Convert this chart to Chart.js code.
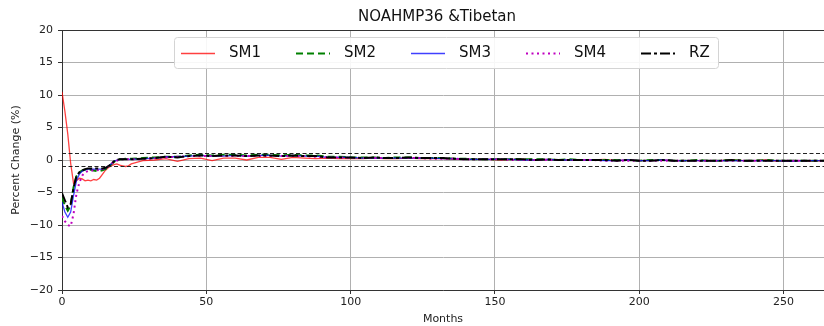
<!DOCTYPE html>
<html lang="en">
<head>
    <meta charset="UTF-8">
    <title>NOAHMP36 &amp;Tibetan</title>
    <script src="https://cdn.jsdelivr.net/npm/chart.js"></script>
    <style>
        body {
            margin: 0;
            padding: 0;
            background-color: #fff;
        }
        .chart-container {
            width: 824px;
            height: 326px;
        }
    </style>
</head>
<body>
    <div class="chart-container">
        <canvas id="changeChart" width="824" height="326"></canvas>
    </div>

    <script>
        // months since start
        const months = [0, 1, 2, 3, 4, 5, 6, 7, 8, 9, 10, 11, 12, 13, 14, 15, 16, 17, 18, 19, 20, 21, 22, 23, 24,
            28, 32, 36, 40, 44, 48, 52, 56, 60, 64, 68, 72, 76, 80, 84, 88, 92, 96, 100,
            104, 108, 112, 116, 120, 124, 128, 132, 136, 140, 144, 148, 152, 156, 160, 164, 168, 172, 176, 180,
            184, 188, 192, 196, 200, 204, 208, 212, 216, 220, 224, 228, 232, 236, 240, 244, 248, 252, 256, 260, 264];

        const sm1 = [10.5, 7.5, 4.0, -0.5, -3.6, -3.2, -2.8, -2.9, -3.2, -3.1, -3.2, -3.0, -3.1, -2.8, -2.2, -1.6, -1.2, -0.9, -0.7, -0.6, -0.8, -0.9, -1.0, -0.9,
            -0.6, -0.1, 0.0, 0.2, -0.2, 0.2, 0.3, -0.1, 0.3, 0.3,
            0.0, 0.4, 0.4, 0.1, 0.4, 0.3, 0.2, 0.3, 0.2, 0.2,
            0.2, 0.3, 0.2, 0.2, 0.3, 0.2, 0.2, 0.2, 0.1, 0.1,
            0.1, 0.1, 0.0, 0.1, 0.1, 0.0, 0.1, 0.0, 0.0, 0.0,
            0.0, 0.1, -0.1, 0.0, -0.1, -0.1, 0.0, -0.1, -0.1, -0.1,
            -0.1, -0.1, 0.0, -0.1, -0.1, 0.0, -0.2, -0.1, -0.1, -0.2, -0.1];

        const sm2 = [-5.8, -7.0, -7.8, -7.0, -4.2, -2.5, -1.9, -1.6, -1.5, -1.5, -1.5, -1.6, -1.7, -1.7, -1.6, -1.4, -1.1, -0.7, -0.3, 0.0, 0.1, 0.1, 0.2, 0.2,
            0.2, 0.3, 0.4, 0.5, 0.5, 0.7, 0.8, 0.7, 0.8, 0.8,
            0.7, 0.8, 0.8, 0.7, 0.8, 0.7, 0.7, 0.5, 0.5, 0.4,
            0.4, 0.4, 0.3, 0.4, 0.4, 0.3, 0.3, 0.3, 0.2, 0.2,
            0.1, 0.1, 0.1, 0.1, 0.1, 0.1, 0.1, 0.0, 0.1, 0.0,
            0.0, 0.0, 0.0, 0.0, -0.1, 0.0, 0.0, -0.1, -0.1, 0.0,
            -0.1, -0.1, 0.0, -0.1, -0.1, 0.0, -0.1, -0.1, -0.1, -0.1, -0.1];

        const sm3 = [-6.5, -8.0, -8.8, -8.0, -5.5, -3.2, -2.2, -1.7, -1.5, -1.4, -1.4, -1.4, -1.4, -1.4, -1.4, -1.3, -1.0, -0.6, -0.2, 0.0, 0.1, 0.1, 0.1, 0.1,
            0.1, 0.2, 0.3, 0.5, 0.5, 0.6, 0.7, 0.6, 0.6, 0.7,
            0.6, 0.7, 0.7, 0.6, 0.7, 0.6, 0.6, 0.4, 0.4, 0.4,
            0.3, 0.3, 0.3, 0.3, 0.3, 0.3, 0.3, 0.2, 0.2, 0.1,
            0.1, 0.1, 0.1, 0.1, 0.0, 0.0, 0.1, 0.0, 0.0, 0.0,
            0.0, -0.1, -0.1, 0.0, -0.1, -0.1, 0.0, -0.1, -0.1, -0.1,
            -0.1, -0.1, -0.1, -0.1, -0.1, -0.1, -0.1, -0.2, -0.1, -0.1, -0.1];

        const sm4 = [-8.6, -9.4, -10.0, -10.2, -8.3, -5.2, -3.5, -2.4, -1.9, -1.7, -1.6, -1.6, -1.6, -1.5, -1.4, -1.2, -1.0, -0.6, -0.3, -0.1, 0.0, 0.1, 0.1, 0.1,
            0.1, 0.1, 0.3, 0.4, 0.5, 0.6, 0.6, 0.6, 0.6, 0.6,
            0.6, 0.6, 0.6, 0.6, 0.6, 0.6, 0.5, 0.4, 0.4, 0.3,
            0.3, 0.3, 0.3, 0.3, 0.3, 0.3, 0.2, 0.2, 0.2, 0.1,
            0.1, 0.1, 0.1, 0.0, 0.0, 0.0, 0.0, 0.0, 0.0, 0.0,
            0.0, -0.1, -0.1, -0.1, -0.1, -0.1, -0.1, -0.1, -0.1, -0.1,
            -0.1, -0.1, -0.1, -0.1, -0.1, -0.1, -0.1, -0.1, -0.1, -0.1, -0.1];

        const rz = [-5.1, -6.2, -7.3, -6.8, -4.3, -2.5, -1.9, -1.6, -1.4, -1.3, -1.3, -1.3, -1.3, -1.3, -1.3, -1.2, -1.0, -0.6, -0.2, 0.0, 0.1, 0.1, 0.1, 0.1,
            0.1, 0.2, 0.3, 0.5, 0.4, 0.6, 0.7, 0.6, 0.7, 0.7,
            0.6, 0.7, 0.7, 0.6, 0.7, 0.6, 0.6, 0.4, 0.4, 0.4,
            0.3, 0.4, 0.3, 0.3, 0.4, 0.3, 0.3, 0.3, 0.2, 0.1,
            0.1, 0.1, 0.1, 0.1, 0.1, 0.0, 0.1, 0.0, 0.0, 0.0,
            0.0, 0.0, -0.1, 0.0, -0.1, -0.1, 0.0, -0.1, -0.1, -0.1,
            -0.1, -0.1, 0.0, -0.1, -0.1, -0.1, -0.1, -0.1, -0.1, -0.1, -0.1];

        const seriesNames = ['SM1', 'SM2', 'SM3', 'SM4', 'RZ'];
        const refLevels = [1, -1];
        const yTicks = [-20, -15, -10, -5, 0, 5, 10, 15, 20];
        const xTicks = [0, 50, 100, 150, 200, 250];

        const FONT = "'DejaVu Sans', sans-serif";

        function toPoints(values) {
            return months.map((m, i) => ({ x: m, y: values[i] }));
        }

        const seriesStyles = [
            { color: 'rgba(255, 0, 0, 0.75)', width: 1.3, dash: [] },
            { color: '#008000', width: 2, dash: [7, 4] },
            { color: 'rgba(0, 0, 255, 0.75)', width: 1.3, dash: [] },
            { color: '#bf00bf', width: 2, dash: [2, 3.5] },
            { color: '#000000', width: 2, dash: [10, 3, 3, 3] }
        ];

        const lineSets = [sm1, sm2, sm3, sm4, rz].map((values, i) => ({
            label: seriesNames[i],
            data: toPoints(values),
            borderColor: seriesStyles[i].color,
            borderWidth: seriesStyles[i].width,
            borderDash: seriesStyles[i].dash,
            pointRadius: 0,
            tension: 0,
            fill: false,
            order: 5 - i
        }));

        const refSets = refLevels.map(level => ({
            label: 'ref' + level,
            data: [{ x: months[0], y: level }, { x: months[months.length - 1], y: level }],
            borderColor: '#222',
            borderWidth: 1,
            borderDash: [4, 2.5],
            pointRadius: 0,
            fill: false,
            order: 0
        }));

        // title, top spine and the in-plot legend
        const decorations = {
            id: 'decorations',
            afterDraw(chart) {
                const ctx = chart.ctx;
                const area = chart.chartArea;
                const cx = (area.left + area.right) / 2;
                ctx.save();

                ctx.strokeStyle = '#333';
                ctx.lineWidth = 1;
                ctx.beginPath();
                ctx.moveTo(area.left, area.top + 0.5);
                ctx.lineTo(area.right, area.top + 0.5);
                ctx.stroke();

                ctx.fillStyle = '#111';
                ctx.font = '15px ' + FONT;
                ctx.textAlign = 'center';
                ctx.textBaseline = 'middle';
                ctx.fillText('NOAHMP36 &Tibetan', cx - 6, 17);

                const boxW = 544, boxH = 31;
                const left = cx - boxW / 2 + 3, top = 37;
                ctx.fillStyle = 'rgba(255, 255, 255, 0.9)';
                ctx.strokeStyle = '#d4d4d4';
                ctx.beginPath();
                ctx.roundRect(left + 0.5, top + 0.5, boxW, boxH, 3);
                ctx.fill();
                ctx.stroke();

                ctx.font = '15px ' + FONT;
                ctx.textAlign = 'left';
                const midY = top + boxH / 2 + 1;
                seriesNames.forEach((name, i) => {
                    const s = seriesStyles[i];
                    const x0 = left + 7 + i * 115;
                    ctx.strokeStyle = s.color;
                    ctx.lineWidth = s.width;
                    ctx.setLineDash(s.dash);
                    ctx.beginPath();
                    ctx.moveTo(x0, midY);
                    ctx.lineTo(x0 + 34, midY);
                    ctx.stroke();
                    ctx.setLineDash([]);
                    ctx.fillStyle = '#111';
                    ctx.fillText(name, x0 + 48, midY);
                });
                ctx.restore();
            }
        };

        const minus = v => (v < 0 ? '\u2212' + Math.abs(v) : String(v));

        new Chart(document.getElementById('changeChart').getContext('2d'), {
            type: 'line',
            data: { datasets: lineSets.concat(refSets) },
            options: {
                responsive: false,
                animation: false,
                layout: { padding: { left: 0, right: -9, top: 30, bottom: 0 } },
                plugins: {
                    legend: { display: false },
                    tooltip: { enabled: false }
                },
                scales: {
                    x: {
                        type: 'linear',
                        min: 0,
                        max: 264,
                        afterFit: scale => { scale.height = 36; },
                        afterBuildTicks: scale => { scale.ticks = xTicks.map(v => ({ value: v })); },
                        ticks: {
                            color: '#222',
                            font: { family: FONT, size: 11 },
                            padding: 2,
                            maxRotation: 0,
                            callback: v => minus(v)
                        },
                        grid: { color: '#b0b0b0', tickColor: '#333', tickLength: 4 },
                        border: { display: true, color: '#333', width: 1 },
                        title: {
                            display: true,
                            text: 'Months',
                            color: '#222',
                            font: { family: FONT, size: 11 },
                            padding: { top: 0, bottom: 0 }
                        }
                    },
                    y: {
                        min: -20,
                        max: 20,
                        afterFit: scale => { scale.width = 62; },
                        afterBuildTicks: scale => { scale.ticks = yTicks.map(v => ({ value: v })); },
                        ticks: {
                            color: '#222',
                            font: { family: FONT, size: 11 },
                            padding: 5,
                            callback: v => minus(v)
                        },
                        grid: { color: '#b0b0b0', tickColor: '#333', tickLength: 4 },
                        border: { display: true, color: '#333', width: 1 },
                        title: {
                            display: true,
                            text: 'Percent Change (%)',
                            color: '#222',
                            font: { family: FONT, size: 11 },
                            padding: { top: 10, bottom: 0 }
                        }
                    }
                }
            },
            plugins: [decorations]
        });
    </script>
</body>
</html>
